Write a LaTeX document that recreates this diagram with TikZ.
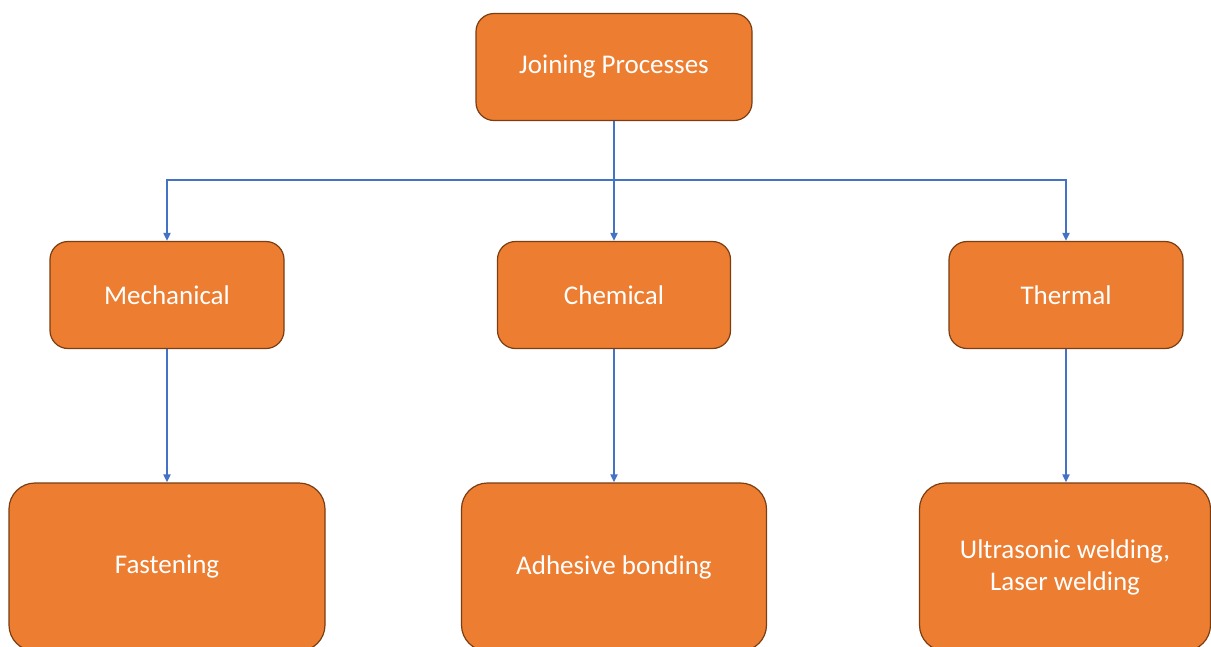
\documentclass[tikz,border=0pt]{standalone}
\usepackage{fontspec}
\setmainfont{Carlito}
\usetikzlibrary{arrows.meta}
\definecolor{boxfill}{HTML}{ED7D31}
\definecolor{boxline}{HTML}{7A3E12}
\definecolor{conn}{HTML}{4472C4}
\tikzset{
  box/.style={draw=boxline, line width=1.2pt, fill=boxfill, text=white, rounded corners=18pt,
    font=\fontsize{27}{32}\selectfont, align=center, inner sep=0pt},
  bigbox/.style={box, rounded corners=26pt},
  link/.style={draw=conn, line width=1.8pt, -{Triangle[length=8pt,width=7pt]}}
}
\begin{document}
\begin{tikzpicture}[x=1pt,y=-1pt]
\useasboundingbox (0,0) rectangle (1211,646);
\clip (0,0) rectangle (1211,646);
\node[box, minimum width=276pt, minimum height=107pt] (top) at (614,67) {Joining Processes};
\node[box, minimum width=234pt, minimum height=107pt] (mech) at (167,295) {Mechanical};
\node[box, minimum width=233pt, minimum height=107pt] (chem) at (614,295) {Chemical};
\node[box, minimum width=234pt, minimum height=107pt] (therm) at (1066,295) {Thermal};
\node[bigbox, minimum width=316pt, minimum height=168pt] (fast) at (167,567) {Fastening};
\node[bigbox, minimum width=305pt, minimum height=168pt] (adh) at (614,567) {Adhesive bonding};
\node[bigbox, minimum width=291pt, minimum height=168pt] (ultra) at (1065,567) {Ultrasonic welding,\\Laser welding};
\coordinate (bus) at (614,180);
\draw[link] (top.south) -- (chem.north);
\draw[link] (bus) -| (mech.north);
\draw[link] (bus) -| (therm.north);
\draw[link] (mech.south) -- (fast.north);
\draw[link] (chem.south) -- (adh.north);
\draw[link] (therm.south) -- (therm.south |- ultra.north);
\end{tikzpicture}
\end{document}
